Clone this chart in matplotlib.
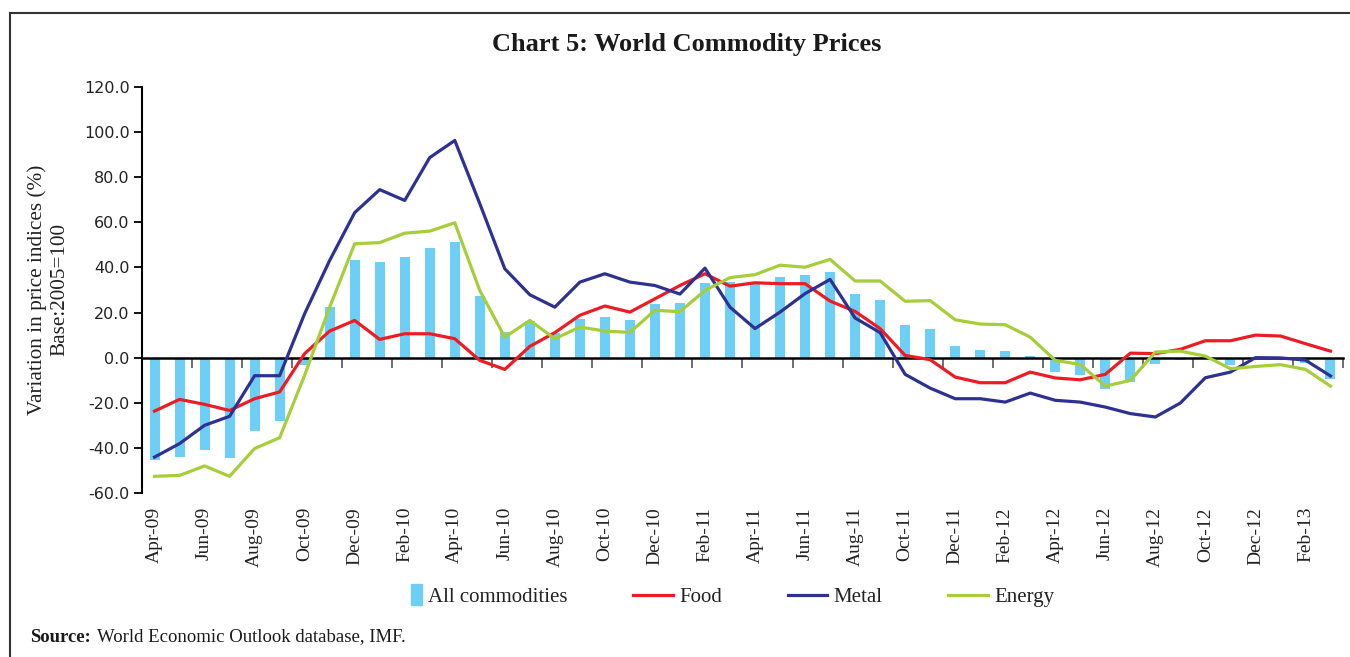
import numpy as np
import matplotlib
matplotlib.use('Agg')
import matplotlib.pyplot as plt
from matplotlib.lines import Line2D
from matplotlib.patches import Rectangle
from matplotlib.legend_handler import HandlerPatch

# Monthly data, Apr-09 to Mar-13 (% variation, base 2005=100)
months = ['Apr-09', 'May-09', 'Jun-09', 'Jul-09', 'Aug-09', 'Sep-09', 'Oct-09', 'Nov-09',
          'Dec-09', 'Jan-10', 'Feb-10', 'Mar-10', 'Apr-10', 'May-10', 'Jun-10', 'Jul-10',
          'Aug-10', 'Sep-10', 'Oct-10', 'Nov-10', 'Dec-10', 'Jan-11', 'Feb-11', 'Mar-11',
          'Apr-11', 'May-11', 'Jun-11', 'Jul-11', 'Aug-11', 'Sep-11', 'Oct-11', 'Nov-11',
          'Dec-11', 'Jan-12', 'Feb-12', 'Mar-12', 'Apr-12', 'May-12', 'Jun-12', 'Jul-12',
          'Aug-12', 'Sep-12', 'Oct-12', 'Nov-12', 'Dec-12', 'Jan-13', 'Feb-13', 'Mar-13']

all_comm = [-45.5, -44.1, -41.1, -44.4, -32.5, -28.1, -3.4, 22.3, 43.1, 42.2, 44.6, 48.4,
            51.4, 27.2, 11.3, 16.2, 11.1, 17.3, 17.9, 16.5, 23.6, 24.2, 33.1, 33.5,
            32.8, 35.7, 36.5, 37.8, 28.1, 25.4, 14.3, 12.9, 5.0, 3.2, 2.8, 0.7,
            -6.4, -7.5, -13.7, -10.8, -3.0, -1.2, 0.3, -3.4, -0.5, 0.5, -2.4, -9.3]

food = [-23.7, -18.5, -20.7, -23.4, -18.2, -15.2, 1.8, 11.8, 16.5, 8.1, 10.6, 10.6,
        8.4, -1.2, -5.2, 5.0, 11.1, 18.8, 22.9, 20.2, 26.1, 32.0, 37.2, 31.7,
        33.2, 32.8, 32.8, 25.1, 20.5, 12.9, 1.0, -0.9, -8.6, -11.1, -11.1, -6.4,
        -9.0, -9.8, -7.4, 2.0, 1.8, 3.7, 7.5, 7.5, 10.0, 9.6, 6.2, 2.9]

metal = [-44.1, -38.1, -30.0, -26.0, -8.0, -8.0, 19.5, 43.1, 64.3, 74.5, 69.7, 88.7,
         96.3, 68.3, 39.4, 27.9, 22.4, 33.5, 37.2, 33.5, 32.0, 28.2, 39.7, 22.4,
         12.9, 20.2, 28.4, 34.7, 17.6, 11.1, -7.4, -13.5, -18.2, -18.2, -19.7, -15.7,
         -18.9, -19.7, -21.9, -24.8, -26.3, -20.1, -8.9, -6.4, 0.0, -0.1, -1.1, -8.1]

energy = [-52.6, -52.2, -48.0, -52.6, -40.3, -35.5, -7.8, 22.4, 50.5, 51.0, 55.2, 56.1,
          59.8, 29.8, 9.1, 16.5, 8.4, 13.6, 11.8, 11.2, 21.0, 20.4, 29.8, 35.5,
          36.8, 41.0, 40.1, 43.6, 34.0, 34.0, 25.0, 25.3, 16.8, 14.9, 14.6, 9.1,
          -1.2, -3.0, -12.6, -10.1, 2.5, 2.9, 0.7, -4.9, -3.9, -3.1, -5.2, -12.6]

yticks = [-60, -40, -20, 0, 20, 40, 60, 80, 100, 120]

c_bar = '#6dcff6'
c_food = '#ed1c24'
c_metal = '#2e3192'
c_energy = '#a6ce39'
serif = ['Liberation Serif', 'DejaVu Serif']

fig = plt.figure(figsize=(13.5, 6.57), dpi=100)
ax = fig.add_axes([142/1350, 1-493/657, (1343-142)/1350, (493-87)/657])

x = np.arange(len(months))
ax.bar(x, all_comm, width=0.4, color=c_bar, zorder=1)
l_food, = ax.plot(x, food, color=c_food, lw=2.3, zorder=3)
l_metal, = ax.plot(x, metal, color=c_metal, lw=2.3, zorder=3)
l_energy, = ax.plot(x, energy, color=c_energy, lw=2.3, zorder=3)

ax.set_xlim(-0.5, len(months) - 0.5)
ax.set_ylim(-60, 120)

# y axis
ax.set_yticks(yticks)
ax.set_yticklabels([f'{v:.1f}' for v in yticks], fontfamily='DejaVu Sans', fontsize=11.5,
                   color='#222222')
ax.tick_params(axis='y', direction='out', length=6, width=1.3, pad=3)
ax.spines['left'].set_linewidth(1.5)
ax.spines['top'].set_visible(False)
ax.spines['right'].set_visible(False)

# zero line with ticks between every two months
ax.spines['bottom'].set_position(('data', 0))
ax.spines['bottom'].set_linewidth(1.8)
ax.spines['bottom'].set_zorder(2)
ax.set_xticks(np.arange(1.5, len(months), 2))
ax.tick_params(axis='x', direction='out', length=7, width=1.2, color='#555555',
               labelbottom=False)

# month labels along the bottom
sec = ax.secondary_xaxis('bottom')
sec.set_xticks(x[::2])
sec.set_xticklabels(months[::2], rotation=90, fontfamily=serif, fontsize=14,
                    color='#222222')
sec.tick_params(length=0, pad=10)
sec.spines['bottom'].set_visible(False)

ax.text(-0.078, 0.5, 'Variation in price indices (%)\nBase:2005=100', transform=ax.transAxes,
        rotation=90, ha='center', va='center', multialignment='center',
        fontfamily=serif, fontsize=15.3, color='#222222', linespacing=1.3)

fig.text(0.5085, 1-45/657, 'Chart 5: World Commodity Prices', ha='center', va='center',
         fontfamily=serif, fontweight='bold', fontsize=19, color='#1a1a1a')


# narrow bar handle for the legend
def bar_patch(legend, orig_handle, xdescent, ydescent, width, height, fontsize):
    w = 0.28 * width
    return Rectangle((width - w - xdescent, -ydescent - 0.2*height), w, height*1.4)


bar_proxy = Rectangle((0, 0), 1, 1, color=c_bar)
leg = fig.legend([bar_proxy, l_food, l_metal, l_energy],
                 ['All commodities', 'Food', 'Metal', 'Energy'],
                 loc='center', bbox_to_anchor=(0.532, 1-597/657), ncol=4, frameon=False,
                 prop={'family': serif, 'size': 15}, handlelength=1.9, handletextpad=0.3,
                 columnspacing=3.15,
                 handler_map={Rectangle: HandlerPatch(patch_func=bar_patch)})
for t in leg.get_texts():
    t.set_color('#222222')

fig.text(30/1350, 1-637/657, 'Source:', ha='left', va='center', fontfamily=serif,
         fontweight='bold', fontsize=13.5, color='#1a1a1a')
fig.text(97/1350, 1-637/657, 'World Economic Outlook database, IMF.', ha='left', va='center',
         fontfamily=serif, fontsize=13.5, color='#1a1a1a')

# outer frame (top and left edges)
fig.add_artist(Line2D([10/1350, 1], [1-13/657, 1-13/657], transform=fig.transFigure,
                      color='#333333', lw=1.5))
fig.add_artist(Line2D([10/1350, 10/1350], [0, 1-13/657], transform=fig.transFigure,
                      color='#333333', lw=1.5))

fig.savefig('out.png', dpi=100)
